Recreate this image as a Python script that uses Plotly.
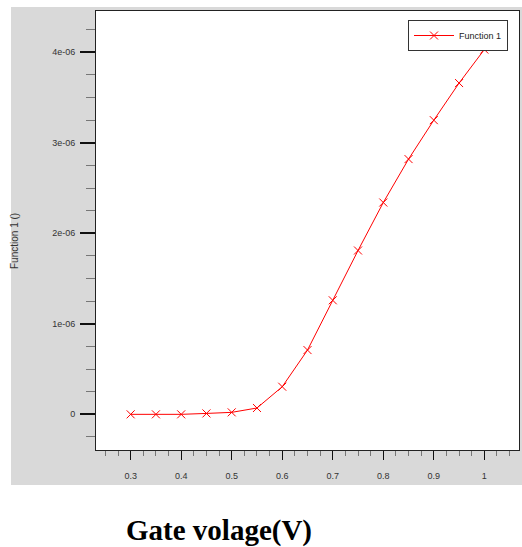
import plotly.graph_objects as go

gate_voltage = [0.3, 0.35, 0.4, 0.45, 0.5, 0.55, 0.6, 0.65, 0.7, 0.75, 0.8, 0.85, 0.9, 0.95, 1.0]
function_1 = [0.0, 0.0, 0.0, 0.01e-6, 0.022e-6, 0.07e-6, 0.305e-6, 0.71e-6, 1.26e-6,
              1.81e-6, 2.34e-6, 2.82e-6, 3.25e-6, 3.66e-6, 4.03e-6]

y_tick_vals = [0, 1e-6, 2e-6, 3e-6, 4e-6]
y_tick_text = ["0", "1e-06", "2e-06", "3e-06", "4e-06"]
x_tick_vals = [0.3, 0.4, 0.5, 0.6, 0.7, 0.8, 0.9, 1.0]
x_tick_text = ["0.3", "0.4", "0.5", "0.6", "0.7", "0.8", "0.9", "1"]

series_name = "Function 1"
y_title = "Function 1 ()"
x_title = "Gate volage(V)"

W, H = 522, 547
L, R, T, B = 96, 3, 11, 97
pw = W - L - R
ph = H - T - B

def px_x(px):
    return (px - L) / pw

def px_y(py):
    return (H - B - py) / ph

fig = go.Figure()
fig.add_trace(go.Scatter(
    x=gate_voltage, y=function_1, mode="lines+markers", name=series_name,
    line=dict(color="#ff0000", width=1),
    marker=dict(symbol="x-thin", size=8, line=dict(color="#ff0000", width=1), color="#ff0000"),
    hoverinfo="skip",
))

tickfont = dict(family="Liberation Sans, Arial, sans-serif", size=9, color="#333333")

fig.update_layout(
    width=W, height=H,
    margin=dict(l=L, r=R, t=T, b=B),
    paper_bgcolor="white", plot_bgcolor="white",
    hovermode=False,
    showlegend=True,
    legend=dict(x=px_x(408), y=px_y(20), xanchor="left", yanchor="top",
                bgcolor="white", bordercolor="#333333", borderwidth=1,
                font=dict(family="Liberation Sans, Arial, sans-serif", size=9, color="#222222"),
                itemwidth=40),
    xaxis=dict(range=[0.2314, 1.0686], tickmode="array", tickvals=x_tick_vals, ticktext=x_tick_text,
               ticks="outside", ticklen=9, tickcolor="#111111", tickwidth=1,
               showline=True, linecolor="#222222", linewidth=1, mirror=True,
               showgrid=False, zeroline=False, tickfont=tickfont, ticklabelstandoff=8,
               minor=dict(tick0=0.3, dtick=0.025, ticks="outside", ticklen=5,
                          tickcolor="#777777", tickwidth=1, showgrid=False)),
    yaxis=dict(range=[-0.394e-6, 4.456e-6], tickmode="array", tickvals=y_tick_vals, ticktext=y_tick_text,
               ticks="outside", ticklen=15, tickcolor="#111111", tickwidth=2,
               showline=True, linecolor="#222222", linewidth=1, mirror=True,
               showgrid=False, zeroline=False, tickfont=tickfont, ticklabelstandoff=3,
               minor=dict(tick0=0, dtick=0.25e-6, ticks="outside", ticklen=9,
                          tickcolor="#777777", tickwidth=1, showgrid=False)),
    shapes=[dict(type="rect", xref="paper", yref="paper",
                 x0=px_x(11), x1=px_x(530), y0=px_y(485), y1=px_y(7),
                 fillcolor="#d9d9d9", line=dict(width=0), layer="below"),
            dict(type="rect", xref="paper", yref="paper",
                 x0=0, x1=1, y0=0, y1=1,
                 fillcolor="white", line=dict(width=0), layer="below")],
    annotations=[
        dict(text=y_title, xref="paper", yref="paper", x=px_x(15), y=px_y(241),
             textangle=-90, showarrow=False, xanchor="center", yanchor="middle",
             font=dict(family="Liberation Sans, Arial, sans-serif", size=10, color="#333333")),
        dict(text="<b>" + x_title + "</b>", xref="paper", yref="paper", x=px_x(219), y=px_y(530),
             showarrow=False, xanchor="center", yanchor="middle",
             font=dict(family="Liberation Serif, Times New Roman, serif", size=29, color="#000000")),
    ],
)

fig.write_html("out.html", config={"displayModeBar": False},
               post_script="document.body.style.margin='0';document.body.style.overflow='hidden';")
